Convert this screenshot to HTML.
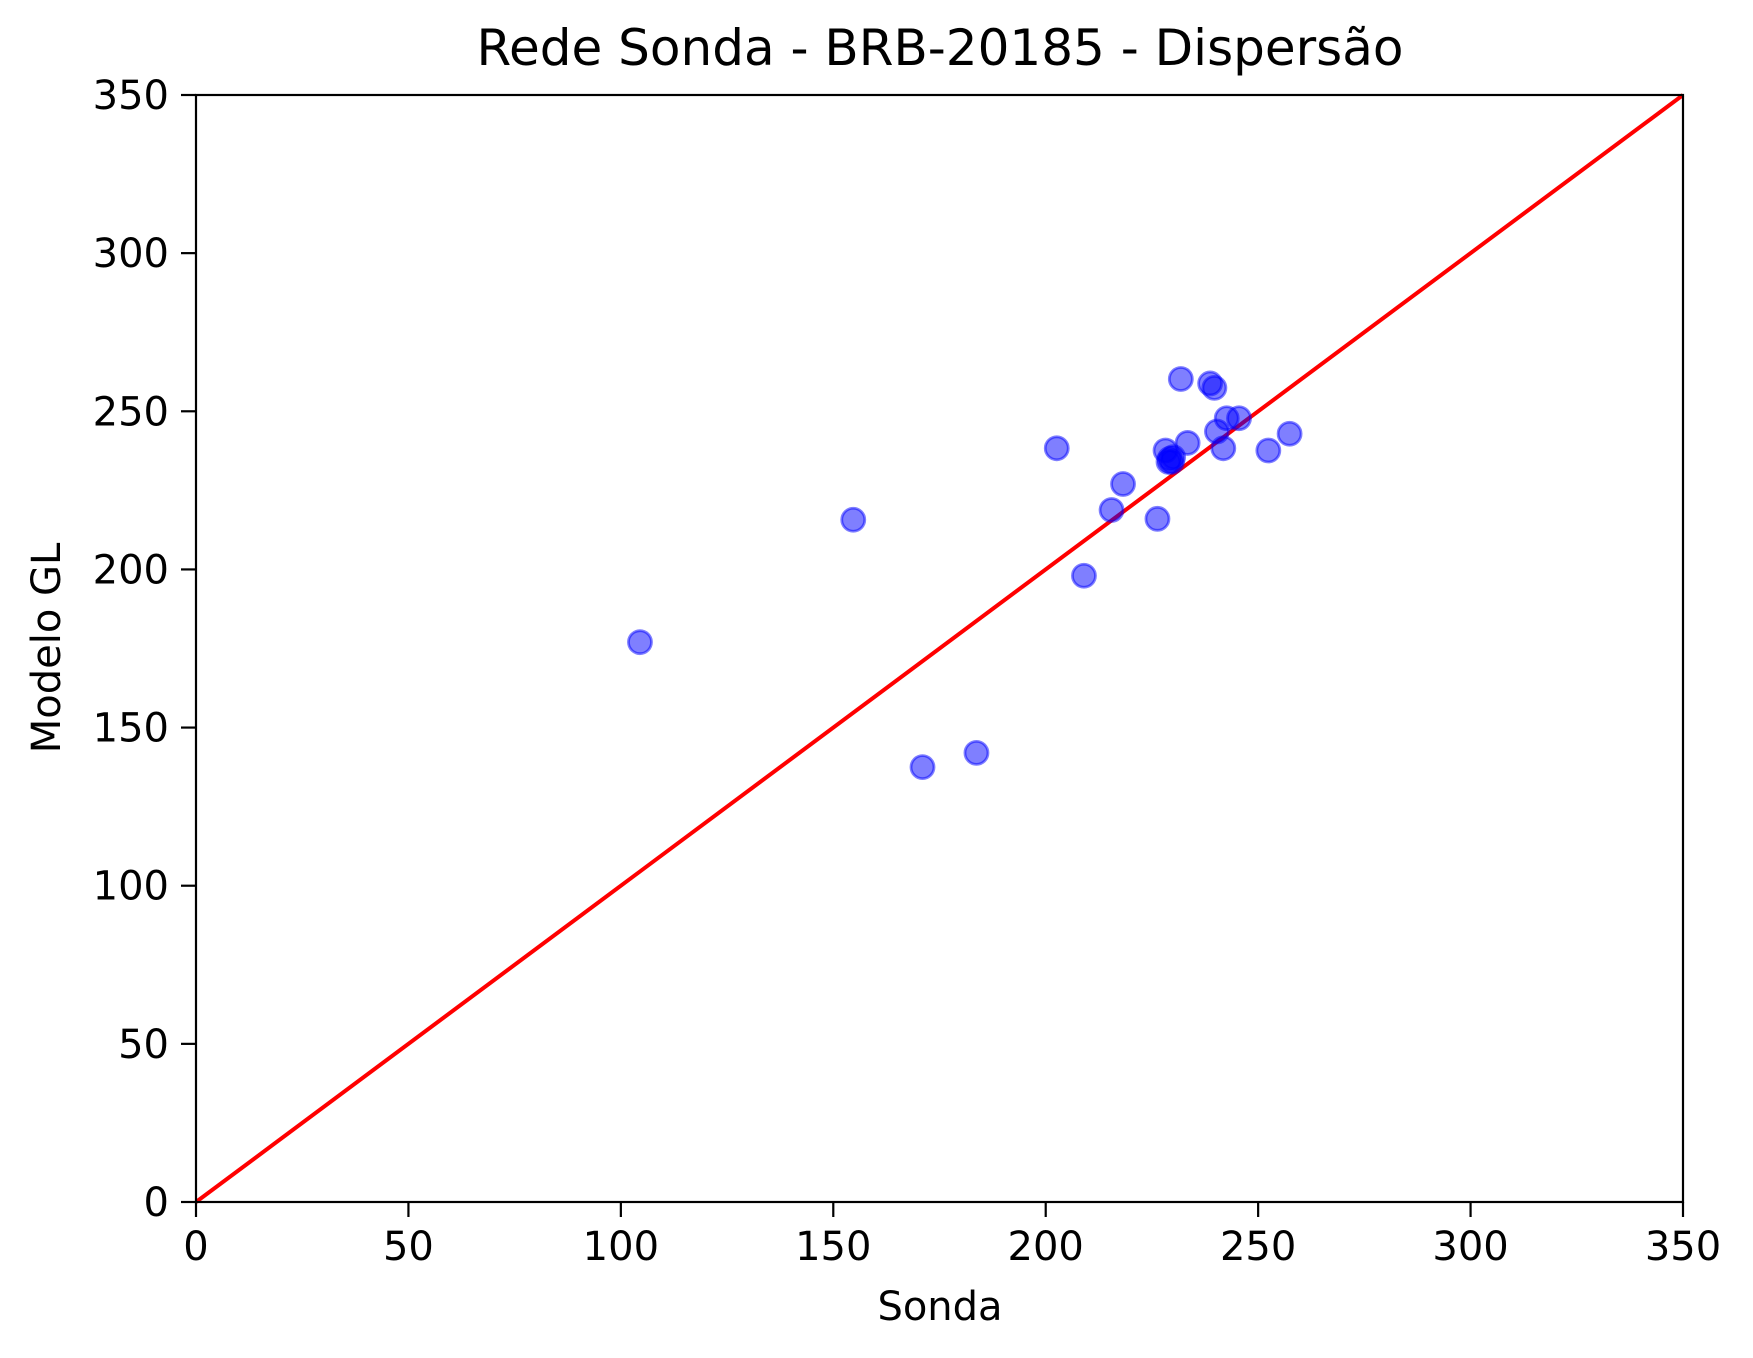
<!DOCTYPE html>
<html><head><meta charset="utf-8"><style>html,body{margin:0;padding:0;background:#fff}svg{display:block}text{font-family:"DejaVu Sans","Liberation Sans",sans-serif;fill:#000}</style></head>
<body>
<svg id="chart" width="1753" height="1358" viewBox="0 0 1753 1358" xmlns="http://www.w3.org/2000/svg">
<text x="940" y="65" font-size="50" text-anchor="middle">Rede Sonda - BRB-20185 - Dispersão</text>
<text x="940" y="1320" font-size="40" text-anchor="middle">Sonda</text>
<text transform="translate(60,648) rotate(-90)" font-size="40" text-anchor="middle">Modelo GL</text>
<g id="plot"></g>
</svg>
<script>
const sondaValues=[104.5,154.7,171,183.7,202.6,209,215.5,218.2,226.3,228.2,229.2,229.7,230,228.9,231.8,233.4,238.7,239.7,240.3,241.8,242.6,245.5,252.4,257.4];
const modeloValues=[177,215.7,137.5,142,238.3,198,218.8,227,216,237.6,235,234,235.5,234,260.2,240,258.8,257.4,243.6,238.3,247.8,247.8,237.6,242.9];
const xTicks=[0,50,100,150,200,250,300,350];
const yTicks=[0,50,100,150,200,250,300,350];
const L=196,R=1683,T=95,B=1202;
const xs=v=>L+(v/350)*(R-L), ys=v=>B-(v/350)*(B-T);
const g=document.getElementById('plot');const NS='http://www.w3.org/2000/svg';
function mk(t,a){const e=document.createElementNS(NS,t);for(const k in a)e.setAttribute(k,a[k]);g.appendChild(e);return e;}
xTicks.forEach(t=>{
 const l=mk('line',{x1:xs(t),x2:xs(t),y1:B,y2:B+15,stroke:'#000','stroke-width':2.2});
 
 
 const tx=mk('text',{x:xs(t),y:B+58,'font-size':40,'text-anchor':'middle'});tx.textContent=t;
 
 
});
yTicks.forEach(t=>{
 const l=mk('line',{x1:L-15,x2:L,y1:ys(t),y2:ys(t),stroke:'#000','stroke-width':2.2});
 
 
 const tx=mk('text',{x:L-27,y:ys(t)+14,'font-size':40,'text-anchor':'end'});tx.textContent=t;
 
 
});
const ln=mk('line',{x1:xs(0),y1:ys(0),x2:xs(350),y2:ys(350),stroke:'#ff0000','stroke-width':4});


sondaValues.forEach((v,i)=>{
 const c=mk('circle',{cx:xs(v),cy:ys(modeloValues[i]),r:11.5,fill:'#0000ff','fill-opacity':0.5,stroke:'#0000ff','stroke-opacity':0.5,'stroke-width':2.8});
 
 
});
const f=mk('rect',{x:L,y:T,width:R-L,height:B-T,fill:'none',stroke:'#000','stroke-width':2.2});


</script>
</body></html>
